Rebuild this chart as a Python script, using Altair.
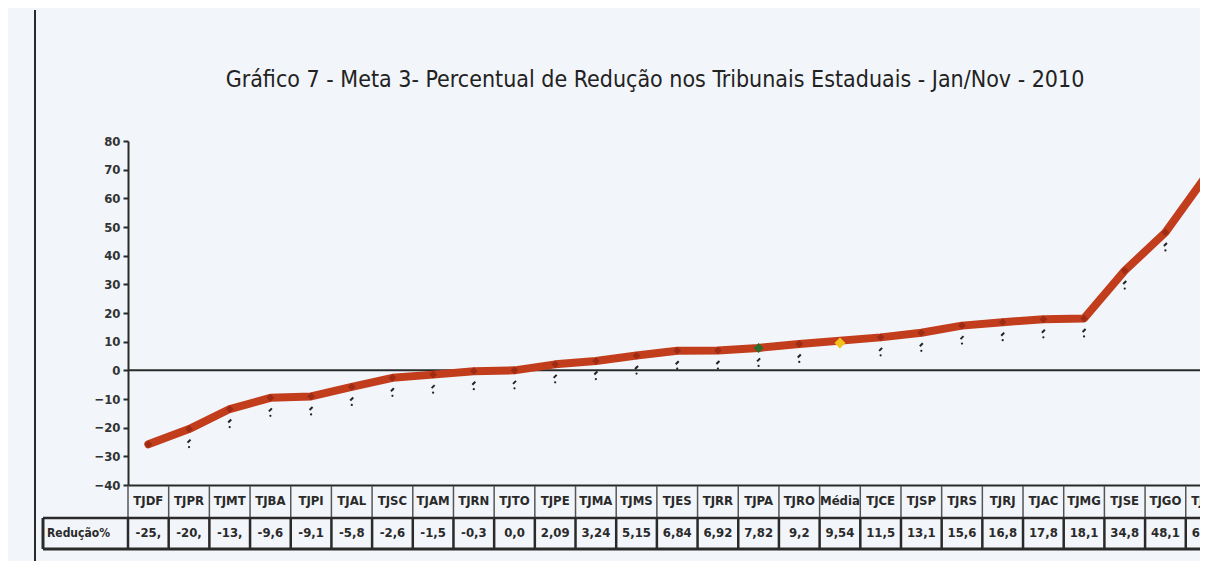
import altair as alt
import pandas as pd

# ---- data ----
categorias = ["TJDF", "TJPR", "TJMT", "TJBA", "TJPI", "TJAL", "TJSC", "TJAM", "TJRN",
              "TJTO", "TJPE", "TJMA", "TJMS", "TJES", "TJRR", "TJPA", "TJRO", "Média",
              "TJCE", "TJSP", "TJRS", "TJRJ", "TJAC", "TJMG", "TJSE", "TJGO", "TJAP"]
reducao = [-25.8, -20.5, -13.5, -9.6, -9.1, -5.8, -2.6, -1.5, -0.3, 0.0, 2.09, 3.24,
           5.15, 6.84, 6.92, 7.82, 9.2, 9.54, 11.5, 13.1, 15.6, 16.8, 17.8, 18.1,
           34.8, 48.1, 67.8]
rotulos = ["-25,", "-20,", "-13,", "-9,6", "-9,1", "-5,8", "-2,6", "-1,5", "-0,3", "0,0",
           "2,09", "3,24", "5,15", "6,84", "6,92", "7,82", "9,2", "9,54", "11,5", "13,1",
           "15,6", "16,8", "17,8", "18,1", "34,8", "48,1", "67,8"]
y_ticks = [-40, -30, -20, -10, 0, 10, 20, 30, 40, 50, 60, 70, 80]
destaque = "TJPA"
media = "Média"
titulo = "Gráfico 7 - Meta 3- Percentual de Redução nos Tribunais Estaduais - Jan/Nov - 2010"
rotulo_linha = "Redução%"

df = pd.DataFrame({"i": list(range(len(categorias))), "cat": categorias,
                   "val": reducao, "lbl": rotulos})
bordas = pd.DataFrame({"b": [k - 0.5 for k in range(len(categorias) + 1)]})
zero = pd.DataFrame({"z": [0]})

F = "Liberation Sans Narrow, DejaVu Sans Condensed, Arial Narrow, sans-serif"
INK = "#2a2a2a"

xscale = alt.Scale(domain=[-0.5, 25.85], nice=False, zero=False)
yscale = alt.Scale(domain=[-40, 80], nice=False, zero=False)
x_axis = alt.Axis(labels=False, ticks=False, grid=False, domain=True,
                  domainColor=INK, domainWidth=2, title=None)
y_axis = alt.Axis(values=y_ticks, title=None, grid=False, tickSize=5, tickWidth=2,
                  tickColor=INK, domainColor=INK, domainWidth=2, labelPadding=3,
                  labelFont=F, labelFontSize=13, labelFontWeight="bold",
                  labelColor="#333")

X = alt.X("i:Q", scale=xscale, axis=x_axis)
Y = alt.Y("val:Q", scale=yscale, axis=y_axis)

base = alt.Chart(df)

linha = base.transform_filter(alt.datum.cat != media).mark_line(
    color="#c23d1c", strokeWidth=8, strokeJoin="round", strokeCap="round", clip=True
).encode(x=X, y=Y)

pontos = base.transform_filter(
    (alt.datum.cat != media) & (alt.datum.cat != destaque)
).mark_point(shape="diamond", filled=True, color="#9e2c15", size=60, opacity=1
).encode(x=X, y=Y)

ponto_dest = base.transform_filter(alt.datum.cat == destaque).mark_point(
    shape="diamond", filled=True, color="#2f6b2a", size=100, opacity=1
).encode(x=X, y=Y)

ponto_media = base.transform_filter(alt.datum.cat == media).mark_point(
    shape="diamond", filled=True, color="#f2c21b", size=120, opacity=1
).encode(x=X, y=Y)

marcados = base.transform_filter((alt.datum.cat != media) & (alt.datum.i > 0))
traco = marcados.mark_point(
    shape="M -0.6 0.6 L 0.6 -0.6", filled=False, stroke="#222", strokeWidth=2,
    size=25, opacity=1, yOffset=12
).encode(x=X, y=Y)
ponto_preto = marcados.mark_point(
    shape="circle", filled=True, color="#222", size=5, opacity=1, yOffset=18
).encode(x=X, y=Y)

linha_zero = alt.Chart(zero).mark_rule(color=INK, strokeWidth=2).encode(
    y=alt.Y("z:Q", scale=yscale, axis=y_axis))

# ---- data table under the plot ----
sep_cab = alt.Chart(bordas).mark_rule(color="#555", strokeWidth=1.5).encode(
    x=alt.X("b:Q", scale=xscale, axis=x_axis), y=alt.value(345), y2=alt.value(377))
sep_val = alt.Chart(bordas).mark_rule(color=INK, strokeWidth=2.5).encode(
    x=alt.X("b:Q", scale=xscale, axis=x_axis), y=alt.value(377), y2=alt.value(408))

h_top = alt.Chart(zero).mark_rule(color=INK, strokeWidth=2.5).encode(
    x=alt.value(-85), x2=alt.value(1080), y=alt.value(377))
h_bot = alt.Chart(zero).mark_rule(color=INK, strokeWidth=3).encode(
    x=alt.value(-85), x2=alt.value(1080), y=alt.value(408))
v_left = alt.Chart(zero).mark_rule(color=INK, strokeWidth=3).encode(
    x=alt.value(-85), y=alt.value(377), y2=alt.value(408))
borda_esq = alt.Chart(zero).mark_rule(color=INK, strokeWidth=2).encode(
    x=alt.value(-93), y=alt.value(-131), y2=alt.value(430))

cab = base.mark_text(font=F, fontSize=13, fontWeight="bold", color=INK,
                     baseline="middle").encode(x=X, y=alt.value(360), text="cat:N")
vals = base.mark_text(font=F, fontSize=13, fontWeight="bold", color=INK,
                      baseline="middle").encode(x=X, y=alt.value(392), text="lbl:N")
rot = alt.Chart(pd.DataFrame({"t": [rotulo_linha]})).mark_text(
    font=F, fontSize=12, fontWeight="bold", color=INK, align="left", baseline="middle"
).encode(x=alt.value(-81), y=alt.value(392), text="t:N")

chart = alt.layer(
    linha_zero, sep_cab, sep_val, h_top, h_bot, v_left, borda_esq,
    linha, pontos, ponto_dest, ponto_media, traco, ponto_preto, cab, vals, rot
).properties(
    width=1072, height=344,
    autosize=alt.AutoSizeParams(type="none"),
    padding={"left": 120, "top": 133, "right": 0, "bottom": 76},
    title=alt.TitleParams(titulo, font=F, fontSize=23, fontWeight="normal",
                          color="#222", anchor="middle", frame="group",
                          offset=-83, dx=-9),
).configure(background="#f2f5f9").configure_view(stroke=None)

chart.save("out.html", embed_options={"renderer": "svg", "actions": False})
